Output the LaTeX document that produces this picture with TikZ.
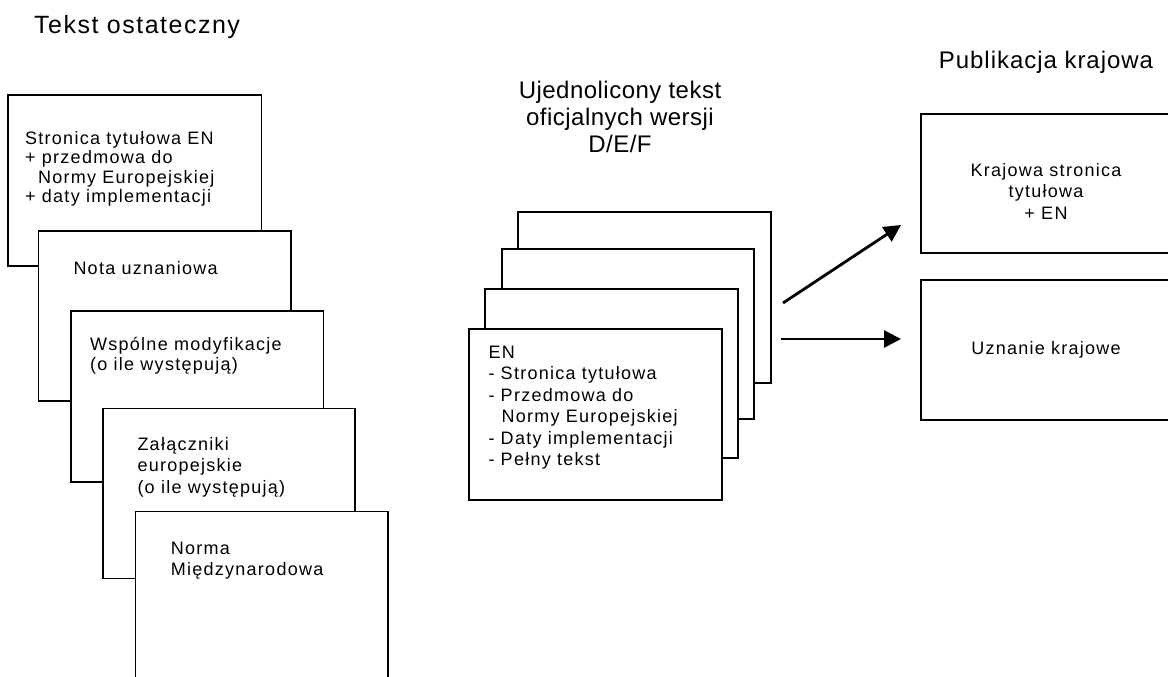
\documentclass[tikz,border=0pt]{standalone}
\usepackage{fontspec}
\setmainfont{Liberation Sans}
\newfontfamily\boxfont[LetterSpace=7]{Liberation Sans}
\newfontfamily\tfontA[LetterSpace=6]{Liberation Sans}
\newfontfamily\tfontB[LetterSpace=4]{Liberation Sans}
\newfontfamily\tfontC[LetterSpace=2]{Liberation Sans}
\usetikzlibrary{arrows.meta}
\begin{document}
\begin{tikzpicture}[x=1pt,y=-1pt,
  page/.style={draw, fill=white, line width=1.6pt, anchor=north west, inner sep=0pt},
  ltxt/.style={anchor=base west, inner sep=0pt, align=left},
  ctxt/.style={anchor=base, inner sep=0pt, align=center},
  bfont/.style={font=\boxfont\fontsize{18}{#1}\selectfont},
  arr/.style={-{Triangle[length=17pt,width=17pt]}, line width=2.8pt},
]
\useasboundingbox (0,0) rectangle (1168,677);
\clip (0,0) rectangle (1168,677);

% titles (multi-line nodes are placed by the baseline of their last line)
\node[anchor=base west, inner sep=0pt, font=\tfontA\fontsize{25}{27}\selectfont] (title1) at (34,34) {Tekst ostateczny};
\node[ctxt, font=\tfontC\fontsize{24}{27}\selectfont] (title2) at (620,152) {Ujednolicony tekst\\oficjalnych wersji\\D/E/F};
\node[ctxt, font=\tfontB\fontsize{24}{27}\selectfont] (title3) at (1046,68.3) {Publikacja krajowa};

% left stack
\node[page, minimum width=253.5pt, minimum height=171pt] (a1) at (7.3,94) {};
\node[ltxt, bfont=19.5] (ta1) at (25,202.8) {Stronica tytułowa EN\\+ przedmowa do\\\hspace*{13pt}Normy Europejskiej\\+ daty implementacji};
\node[page, minimum width=252.5pt, minimum height=170pt] (a2) at (37.7,230) {};
\node[ltxt, bfont=19.5] (ta2) at (73.3,274) {Nota uznaniowa};
\node[page, minimum width=252.5pt, minimum height=171pt] (a3) at (70,310) {};
\node[ltxt, bfont=19.5] (ta3) at (90,370.2) {Wspólne modyfikacje\\(o ile występują)};
\node[page, minimum width=252pt, minimum height=170pt] (a4) at (102.3,407.7) {};
\node[ltxt, bfont=21.6] (ta4) at (137.3,493.2) {Załączniki\\europejskie\\(o ile występują)};
\node[page, minimum width=252.5pt, minimum height=172pt] (a5) at (134.7,510.7) {};
\node[ltxt, bfont=21] (ta5) at (170.7,575) {Norma\\Międzynarodowa};

% middle stack
\node[page, minimum width=253pt, minimum height=171pt] (m4) at (517,211) {};
\node[page, minimum width=252pt, minimum height=170pt] (m3) at (501,248) {};
\node[page, minimum width=253pt, minimum height=169pt] (m2) at (484,288) {};
\node[page, minimum width=253pt, minimum height=171pt] (m1) at (468,328) {};
\node[ltxt, bfont=21.5] (tm1) at (488.3,465.8) {EN\\- Stronica tytułowa\\- Przedmowa do\\\hspace*{13pt}Normy Europejskiej\\- Daty implementacji\\- Pełny tekst};

% right boxes
\node[page, minimum width=270pt, minimum height=139pt] (r1) at (920,113) {};
\node[ctxt, bfont=21.2] (tr1) at (1046,219.1) {Krajowa stronica\\tytułowa\\+ EN};
\node[page, minimum width=270pt, minimum height=140pt] (r2) at (920,279) {};
\node[ctxt, bfont=21] (tr2) at (1046,354) {Uznanie krajowe};

% arrows
\coordinate (s1) at (783,303);
\coordinate (e1) at (901,225);
\coordinate (s2) at (781,339);
\coordinate (e2) at (901,339);
\draw[arr] (s1) -- (e1);
\draw[arr] (s2) -- (e2);
\end{tikzpicture}
\end{document}
